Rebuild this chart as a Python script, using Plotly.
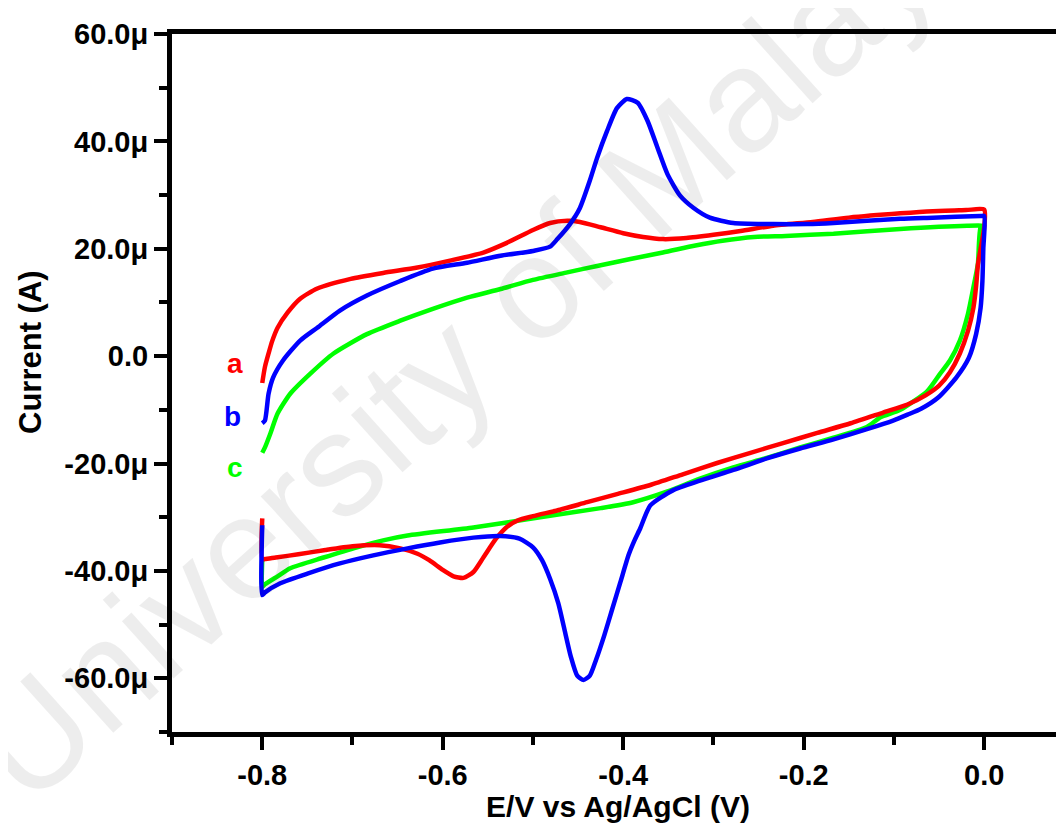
import plotly.graph_objects as go

# ---- data (E in V vs Ag/AgCl, I in microamps) ----
E_a = [-0.800, -0.797, -0.793, -0.789, -0.783, -0.772, -0.758, -0.739, -0.702, -0.666,
       -0.628, -0.592, -0.555, -0.529, -0.500, -0.481, -0.462, -0.448, -0.425, -0.400,
       -0.378, -0.356, -0.330, -0.300, -0.270, -0.234, -0.190, -0.150, -0.093, -0.057,
       -0.020, 0.000,
       0.000, -0.004, -0.007, -0.009, -0.012, -0.018, -0.027, -0.038, -0.050, -0.065,
       -0.085, -0.112, -0.148, -0.185, -0.223, -0.259, -0.296, -0.334, -0.370, -0.407,
       -0.440, -0.470, -0.500, -0.517, -0.529, -0.541, -0.555, -0.566, -0.577, -0.588,
       -0.600, -0.615, -0.628, -0.647, -0.670, -0.700, -0.730, -0.760, -0.785, -0.797,
       -0.800, -0.800]
I_a = [-5.0, -2.0, 0.5, 2.8, 5.3, 8.1, 10.7, 12.6, 14.4, 15.5,
       16.5, 17.8, 19.3, 21.1, 23.5, 24.8, 25.2, 25.0, 24.0, 22.9,
       22.2, 21.8, 22.0, 22.6, 23.3, 24.3, 25.0, 25.8, 26.6, 27.0,
       27.2, 27.3,
       24.0, 20.0, 17.0, 13.0, 9.0, 4.7, 0.5, -3.0, -5.5, -7.3,
       -9.0, -10.5, -12.5, -14.3, -16.2, -18.0, -19.9, -22.0, -24.0, -25.7,
       -27.2, -28.6, -29.8, -30.6, -31.8, -34.0, -37.5, -40.2, -41.3, -41.0,
       -39.8, -38.0, -36.8, -35.8, -35.2, -35.4, -36.1, -36.9, -37.5, -37.8,
       -37.8, -30.2]

E_b = [-0.800, -0.797, -0.793, -0.788, -0.777, -0.758, -0.739, -0.714, -0.684, -0.647,
       -0.611, -0.573, -0.536, -0.500, -0.481, -0.473, -0.459, -0.448, -0.437, -0.429,
       -0.418, -0.407, -0.396, -0.384, -0.373, -0.362, -0.351, -0.337, -0.322, -0.304,
       -0.278, -0.234, -0.196, -0.167, -0.093, -0.057, -0.004, 0.000,
       -0.001, -0.002, -0.004, -0.009, -0.017, -0.031, -0.051, -0.070, -0.085, -0.101,
       -0.130, -0.167, -0.204, -0.240, -0.278, -0.315, -0.345, -0.370, -0.381, -0.388,
       -0.394, -0.403, -0.412, -0.421, -0.430, -0.437, -0.444, -0.451, -0.458, -0.465,
       -0.472, -0.481, -0.490, -0.500, -0.515, -0.536, -0.566, -0.603, -0.639, -0.677,
       -0.714, -0.750, -0.780, -0.797, -0.800, -0.800]
I_b = [-12.5, -12.0, -7.0, -4.0, -0.8, 2.9, 5.3, 8.5, 11.3, 14.0,
       16.3, 17.4, 18.7, 19.6, 20.4, 21.8, 24.6, 27.6, 32.7, 36.9,
       41.9, 46.2, 47.9, 47.2, 43.8, 38.8, 33.9, 29.9, 27.6, 25.8,
       24.8, 24.6, 24.6, 24.8, 25.6, 25.8, 26.1, 26.1,
       20.0, 14.0, 9.0, 4.1, -0.3, -4.0, -7.7, -9.8, -10.9, -12.0,
       -13.6, -15.5, -17.2, -19.0, -21.2, -23.2, -25.0, -27.8, -32.0, -34.5,
       -37.0, -42.0, -47.0, -52.0, -56.5, -59.5, -60.3, -59.5, -56.0, -51.0,
       -46.0, -41.5, -38.0, -35.6, -34.0, -33.5, -33.8, -34.7, -35.8, -37.1,
       -38.6, -40.5, -42.3, -44.0, -44.5, -31.5]

E_c = [-0.800, -0.797, -0.791, -0.783, -0.769, -0.747, -0.721, -0.684, -0.647, -0.611,
       -0.573, -0.536, -0.500, -0.462, -0.429, -0.392, -0.356, -0.320, -0.290, -0.255,
       -0.220, -0.167, -0.093, -0.019, 0.000,
       -0.004, -0.007, -0.012, -0.018, -0.027, -0.038, -0.049, -0.063, -0.093, -0.115,
       -0.130, -0.167, -0.204, -0.240, -0.278, -0.315, -0.351, -0.389, -0.425, -0.492,
       -0.566, -0.639, -0.666, -0.695, -0.732, -0.769, -0.783, -0.797, -0.800, -0.800]
I_c = [-18.0, -17.0, -14.4, -10.7, -7.0, -3.3, 0.5, 4.1, 6.6, 8.8,
       10.9, 12.5, 14.2, 15.6, 16.8, 18.1, 19.3, 20.6, 21.5, 22.2,
       22.4, 22.8, 23.7, 24.3, 24.3,
       24.0, 17.2, 12.8, 7.9, 2.9, -0.8, -3.3, -6.5, -10.0, -11.4,
       -13.2, -15.2, -17.0, -18.9, -20.7, -22.8, -25.2, -27.2, -28.3, -30.0,
       -31.9, -33.4, -34.3, -35.6, -37.5, -39.5, -41.0, -42.5, -43.0, -38.0]

curve_names = ["a", "b", "c"]
curve_colors = {"a": "#ff0000", "b": "#0000ff", "c": "#00ff00"}

x_tickvals = [-0.8, -0.6, -0.4, -0.2, 0.0]
x_ticktext = ["-0.8", "-0.6", "-0.4", "-0.2", "0.0"]
y_tickvals = [-60, -40, -20, 0, 20, 40, 60]
y_ticktext = ["-60.0μ", "-40.0μ", "-20.0μ", "0.0", "20.0μ", "40.0μ", "60.0μ"]

label_pos = {"a": (-0.830, -1.4), "b": (-0.833, -11.3), "c": (-0.830, -20.7)}

FONT = "Liberation Sans, Arial, sans-serif"

W, H = 1056, 815
ML, MT, MB = 164, 26, 91
PW, PH = W - ML, H - MT - MB

fig = go.Figure()
for name, ex, iy in [("c", E_c, I_c), ("a", E_a, I_a), ("b", E_b, I_b)]:
    fig.add_trace(go.Scatter(x=ex, y=iy, mode="lines", name=name,
                             line=dict(color=curve_colors[name], width=4.5,
                                       shape="spline", smoothing=0.6),
                             showlegend=False))

for name in curve_names:
    lx, ly = label_pos[name]
    fig.add_annotation(x=lx, y=ly, xref="x", yref="y", text=name, showarrow=False,
                       font=dict(family=FONT, size=28, color=curve_colors[name], weight="bold"))

# watermark
fig.add_annotation(x=0.348, y=0.572, xref="paper", yref="paper",
                   text="University of Malaya", showarrow=False, textangle=-42,
                   xanchor="center", yanchor="middle",
                   font=dict(family=FONT, size=146, color="rgba(0,0,0,0.07)"))

# y title
fig.add_annotation(x=(22 - ML) / PW, y=(MT + PH - 344) / PH, xref="paper", yref="paper",
                   text="Current (A)", showarrow=False, textangle=-90,
                   xanchor="center", yanchor="middle",
                   font=dict(family=FONT, size=31, color="black", weight="bold"))

fig.update_layout(
    width=W, height=H,
    margin=dict(l=ML, r=0, t=MT, b=MB),
    paper_bgcolor="white", plot_bgcolor="white",
    xaxis=dict(range=[-0.9, 0.0884], showgrid=False, zeroline=False,
               showline=True, linewidth=5, linecolor="black", mirror=True,
               ticks="outside", ticklen=13, tickwidth=4, tickcolor="black",
               tickvals=x_tickvals, ticktext=x_ticktext,
               tickfont=dict(family=FONT, size=29, color="black", weight="bold"),
               minor=dict(dtick=0.1, tick0=-0.9, ticks="outside", ticklen=8,
                          tickwidth=4, tickcolor="black"),
               title=dict(text="E/V vs Ag/AgCl (V)", standoff=5,
                          font=dict(family=FONT, size=30, color="black", weight="bold"))),
    yaxis=dict(range=[-70, 60], showgrid=False, zeroline=False,
               showline=True, linewidth=5, linecolor="black", mirror=False,
               ticks="outside", ticklen=13, tickwidth=4, tickcolor="black",
               tickvals=y_tickvals, ticktext=y_ticktext,
               tickfont=dict(family=FONT, size=29, color="black", weight="bold"),
               minor=dict(dtick=10, tick0=-70, ticks="outside", ticklen=8,
                          tickwidth=4, tickcolor="black")),
)

fig.write_html("out.html")
